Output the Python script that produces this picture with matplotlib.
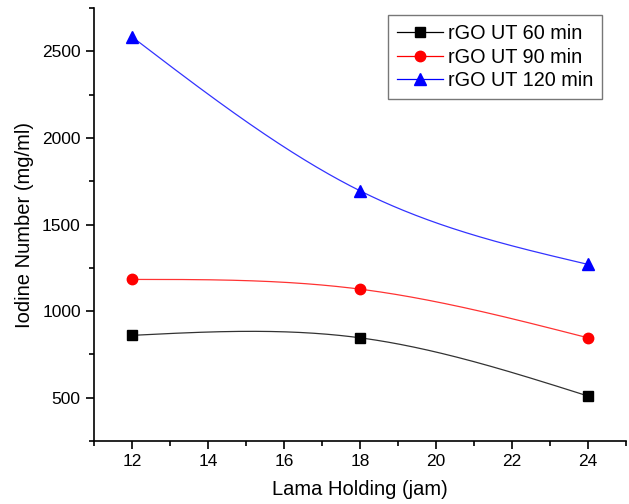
import numpy as np
import matplotlib
matplotlib.use("Agg")
import matplotlib.pyplot as plt
from matplotlib.ticker import MultipleLocator

plt.rcParams['font.family'] = ['Liberation Sans', 'DejaVu Sans']

# data
hours = [12, 18, 24]
ut60 = [860, 846, 510]
ut90 = [1183, 1127, 846]
ut120 = [2584, 1695, 1270]
labels = ['rGO UT 60 min', 'rGO UT 90 min', 'rGO UT 120 min']


def natural_spline(x, y, xs):
    # natural cubic spline through the points, like Origin's "Spline" connect
    x = np.asarray(x, float)
    y = np.asarray(y, float)
    n = len(x)
    h = np.diff(x)
    A = np.zeros((n, n))
    r = np.zeros(n)
    A[0, 0] = A[-1, -1] = 1
    for i in range(1, n - 1):
        A[i, i - 1] = h[i - 1]
        A[i, i] = 2 * (h[i - 1] + h[i])
        A[i, i + 1] = h[i]
        r[i] = 6 * ((y[i + 1] - y[i]) / h[i] - (y[i] - y[i - 1]) / h[i - 1])
    M = np.linalg.solve(A, r)
    out = np.empty_like(xs)
    for k, xv in enumerate(xs):
        i = min(np.searchsorted(x, xv, side='right') - 1, n - 2)
        t0 = x[i + 1] - xv
        t1 = xv - x[i]
        out[k] = (M[i] * t0 ** 3 + M[i + 1] * t1 ** 3) / (6 * h[i]) \
            + (y[i] / h[i] - M[i] * h[i] / 6) * t0 \
            + (y[i + 1] / h[i] - M[i + 1] * h[i] / 6) * t1
    return out


fig = plt.figure(figsize=(6.29, 5.04), dpi=100)
ax = fig.add_axes([0.1494, 0.125, 0.8456, 0.859])

series = [(ut60, 'black', 's', 6.5), (ut90, 'red', 'o', 7.5), (ut120, 'blue', '^', 8)]
xs = np.linspace(hours[0], hours[-1], 300)
for (vals, col, mk, ms), lab in zip(series, labels):
    ax.plot(xs, natural_spline(hours, vals, xs), color=col, lw=0.9, alpha=0.8)
    ax.plot(hours, vals, linestyle='none', marker=mk, color=col, ms=ms)
    ax.plot([], [], color=col, lw=0.9, marker=mk, ms=ms, label=lab)

ax.set_xlim(11, 25)
ax.set_ylim(250, 2750)
ax.xaxis.set_minor_locator(MultipleLocator(1))
ax.yaxis.set_minor_locator(MultipleLocator(250))
ax.set_yticks([500, 1000, 1500, 2000, 2500])
ax.set_xticks([12, 14, 16, 18, 20, 22, 24])

ax.spines['top'].set_visible(False)
ax.spines['right'].set_visible(False)
ax.spines['left'].set_linewidth(1.2)
ax.spines['bottom'].set_linewidth(1.2)
ax.tick_params(which='major', direction='out', length=6, width=1.2, labelsize=12.5)
ax.tick_params(which='minor', direction='out', length=3.5, width=1.2)

ax.set_xlabel('Lama Holding (jam)', fontsize=14.5, labelpad=8)
ax.set_ylabel('Iodine Number (mg/ml)', fontsize=14.5, labelpad=6)

leg = ax.legend(loc='upper right', bbox_to_anchor=(0.955, 0.983), fontsize=14.3,
                frameon=True, fancybox=False, handlelength=2.3, handletextpad=0.25,
                labelspacing=0.22, borderpad=0.45, borderaxespad=0)
leg.get_frame().set_edgecolor('#555555')
leg.get_frame().set_linewidth(1.0)

fig.savefig('out.png', dpi=100)
